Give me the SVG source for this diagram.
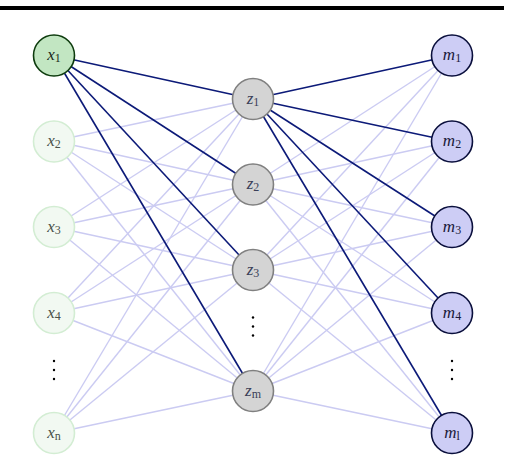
<svg xmlns="http://www.w3.org/2000/svg" width="508" height="456" viewBox="0 0 508 456">
<style>
.lt{stroke:#cbcbf2;stroke-width:1.4;fill:none}
.dk{stroke:#0c1a78;stroke-width:1.6;fill:none}
.xa{fill:#c2e6c2;stroke:#0d3b0d;stroke-width:1.6}
.xb{fill:#f2f9f2;stroke:#d3edd3;stroke-width:1.6}
.z{fill:#d4d4d4;stroke:#808080;stroke-width:1.6}
.m{fill:#cdcdf5;stroke:#0a0f3c;stroke-width:1.6}
text{font-family:'Liberation Serif','Times New Roman','DejaVu Serif',serif;font-style:italic;font-size:17px;text-anchor:middle}
tspan.sub{font-style:normal;font-size:12px}
.dot{fill:#000}
</style>
<rect x="0" y="0" width="508" height="456" fill="#fff"/>
<rect x="0" y="6" width="504" height="4" fill="#000"/>
<g id="connectors">
<g class="lt">
<line x1="54" y1="141" x2="253" y2="99"/><line x1="54" y1="141" x2="253" y2="184.5"/><line x1="54" y1="141" x2="253" y2="270"/><line x1="54" y1="141" x2="253" y2="391"/>
<line x1="54" y1="227" x2="253" y2="99"/><line x1="54" y1="227" x2="253" y2="184.5"/><line x1="54" y1="227" x2="253" y2="270"/><line x1="54" y1="227" x2="253" y2="391"/>
<line x1="54" y1="313" x2="253" y2="99"/><line x1="54" y1="313" x2="253" y2="184.5"/><line x1="54" y1="313" x2="253" y2="270"/><line x1="54" y1="313" x2="253" y2="391"/>
<line x1="54" y1="433" x2="253" y2="99"/><line x1="54" y1="433" x2="253" y2="184.5"/><line x1="54" y1="433" x2="253" y2="270"/><line x1="54" y1="433" x2="253" y2="391"/>
<line x1="253" y1="184.5" x2="452" y2="55.5"/><line x1="253" y1="184.5" x2="452" y2="141.5"/><line x1="253" y1="184.5" x2="452" y2="227"/><line x1="253" y1="184.5" x2="452" y2="313"/><line x1="253" y1="184.5" x2="452" y2="433"/>
<line x1="253" y1="270" x2="452" y2="55.5"/><line x1="253" y1="270" x2="452" y2="141.5"/><line x1="253" y1="270" x2="452" y2="227"/><line x1="253" y1="270" x2="452" y2="313"/><line x1="253" y1="270" x2="452" y2="433"/>
<line x1="253" y1="391" x2="452" y2="55.5"/><line x1="253" y1="391" x2="452" y2="141.5"/><line x1="253" y1="391" x2="452" y2="227"/><line x1="253" y1="391" x2="452" y2="313"/><line x1="253" y1="391" x2="452" y2="433"/>
</g>
<g class="dk">
<line x1="54" y1="55.5" x2="253" y2="99"/><line x1="54" y1="55.5" x2="253" y2="184.5"/><line x1="54" y1="55.5" x2="253" y2="270"/><line x1="54" y1="55.5" x2="253" y2="391"/>
<line x1="253" y1="99" x2="452" y2="55.5"/><line x1="253" y1="99" x2="452" y2="141.5"/><line x1="253" y1="99" x2="452" y2="227"/><line x1="253" y1="99" x2="452" y2="313"/><line x1="253" y1="99" x2="452" y2="433"/>
</g>
</g>
<g id="x1"><circle class="xa" cx="54" cy="55.5" r="20.5"/><text x="54" y="60" fill="#1a2a1a">x<tspan class="sub" dy="2">1</tspan></text></g>
<g id="x2"><circle class="xb" cx="54" cy="141.5" r="20.5"/><text x="54" y="146" fill="#4a524a">x<tspan class="sub" dy="2">2</tspan></text></g>
<g id="x3"><circle class="xb" cx="54" cy="227" r="20.5"/><text x="54" y="231.5" fill="#4a524a">x<tspan class="sub" dy="2">3</tspan></text></g>
<g id="x4"><circle class="xb" cx="54" cy="313" r="20.5"/><text x="54" y="317.5" fill="#4a524a">x<tspan class="sub" dy="2">4</tspan></text></g>
<g id="xdots"><circle class="dot" cx="54" cy="361" r="1.2"/><circle class="dot" cx="54" cy="370" r="1.2"/><circle class="dot" cx="54" cy="379" r="1.2"/></g>
<g id="xn"><circle class="xb" cx="54" cy="433" r="20.5"/><text x="54" y="437.5" fill="#4a524a">x<tspan class="sub" dy="2">n</tspan></text></g>
<g id="z1"><circle class="z" cx="253" cy="99" r="20.5"/><text x="253" y="103.5" fill="#3a3f58">z<tspan class="sub" dy="2">1</tspan></text></g>
<g id="z2"><circle class="z" cx="253" cy="184.5" r="20.5"/><text x="253" y="189" fill="#3a3f58">z<tspan class="sub" dy="2">2</tspan></text></g>
<g id="z3"><circle class="z" cx="253" cy="270" r="20.5"/><text x="253" y="274.5" fill="#3a3f58">z<tspan class="sub" dy="2">3</tspan></text></g>
<g id="zdots"><circle class="dot" cx="253" cy="317.5" r="1.2"/><circle class="dot" cx="253" cy="326.5" r="1.2"/><circle class="dot" cx="253" cy="335.5" r="1.2"/></g>
<g id="zm"><circle class="z" cx="253" cy="391" r="20.5"/><text x="253" y="395.5" fill="#3a3f58">z<tspan class="sub" dy="2">m</tspan></text></g>
<g id="m1"><circle class="m" cx="452" cy="55.5" r="20.5"/><text x="452" y="60" fill="#1a1a3a">m<tspan class="sub" dy="2">1</tspan></text></g>
<g id="m2"><circle class="m" cx="452" cy="141.5" r="20.5"/><text x="452" y="146" fill="#1a1a3a">m<tspan class="sub" dy="2">2</tspan></text></g>
<g id="m3"><circle class="m" cx="452" cy="227" r="20.5"/><text x="452" y="231.5" fill="#1a1a3a">m<tspan class="sub" dy="2">3</tspan></text></g>
<g id="m4"><circle class="m" cx="452" cy="313" r="20.5"/><text x="452" y="317.5" fill="#1a1a3a">m<tspan class="sub" dy="2">4</tspan></text></g>
<g id="mdots"><circle class="dot" cx="452" cy="361" r="1.2"/><circle class="dot" cx="452" cy="370" r="1.2"/><circle class="dot" cx="452" cy="379" r="1.2"/></g>
<g id="ml"><circle class="m" cx="452" cy="433" r="20.5"/><text x="452" y="437.5" fill="#1a1a3a">m<tspan class="sub" dy="2">l</tspan></text></g>
</svg>
